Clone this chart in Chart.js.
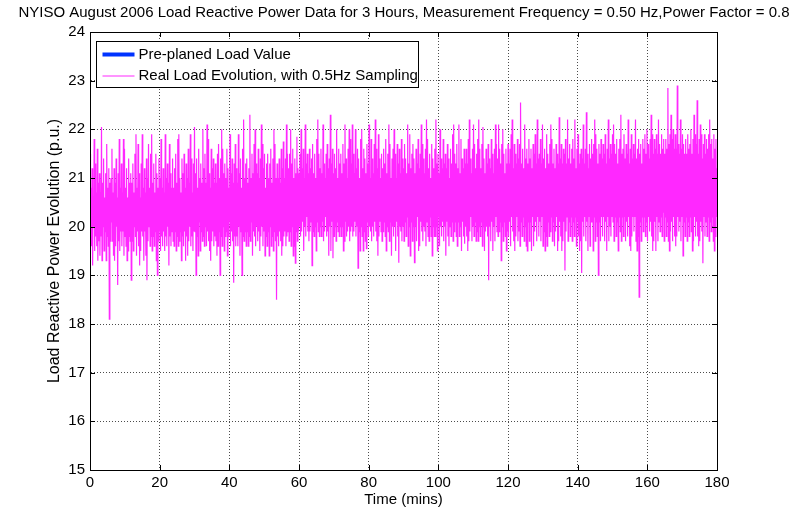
<!DOCTYPE html>
<html><head><meta charset="utf-8">
<script src="https://cdn.jsdelivr.net/npm/chart.js@4.4.0/dist/chart.umd.min.js"></script>
<style>html,body{margin:0;padding:0;background:#fff}#wrap{width:807px;height:509px}</style>
</head><body><div id="wrap"><canvas id="c" width="807" height="509"></canvas></div>
<script>
const titleText = "NYISO August 2006 Load Reactive Power Data for 3 Hours, Measurement Frequency = 0.50 Hz,Power Factor = 0.8";
const xTitle = "Time (mins)";
const yTitle = "Load Reactive Power Evolution (p.u.)";
const legendLabels = ["Pre-planed Load Value", "Real Load Evolution, with 0.5Hz Sampling"];
const xTicks = [0, 20, 40, 60, 80, 100, 120, 140, 160, 180];
const yTicks = [15, 16, 17, 18, 19, 20, 21, 22, 23, 24];
const sampleStepMin = 0.15;
const realLoad = [
21.5,19.9,20.8,19.6,21.2,19.2,20.6,20.0,21.8,19.5,21.3,19.8,20.7,19.6,21.6,19.3,20.9,19.7,21.1,19.4,
20.7,19.8,22.05,19.3,20.9,20.0,21.4,19.5,20.6,19.9,21.1,19.3,21.7,19.8,20.8,19.6,21.2,18.1,20.9,19.7,
21.0,20.1,21.6,19.7,20.7,19.4,21.2,19.3,20.9,19.6,21.4,20.0,20.6,18.8,21.1,19.7,21.8,19.5,20.8,19.9,
21.3,19.6,20.7,19.9,21.8,19.4,21.6,19.8,20.8,19.6,21.2,19.3,20.6,19.5,21.4,19.8,20.9,19.7,21.1,18.9,
20.9,19.7,21.3,19.5,20.7,20.0,21.5,19.8,21.9,19.4,20.8,19.9,21.7,19.6,21.1,19.2,20.6,19.5,21.3,19.9,
21.9,19.8,20.8,19.3,21.2,19.9,20.7,19.4,21.4,18.9,21.0,19.7,21.7,20.0,20.8,19.6,21.5,19.8,21.9,19.5,
20.9,19.8,21.3,19.6,20.7,19.9,21.5,19.3,21.1,19.0,20.8,19.7,21.4,19.9,21.0,19.5,21.8,19.8,20.8,19.6,
21.2,19.9,20.7,19.5,21.9,19.8,21.0,19.6,21.3,20.0,20.9,19.2,21.7,19.8,21.1,19.6,20.8,19.9,21.4,19.7,
20.8,19.6,21.2,19.9,21.5,19.5,20.9,19.8,21.8,19.6,21.9,19.7,21.0,19.9,20.7,19.3,21.4,19.8,21.1,19.6,
21.5,19.9,20.8,19.3,21.3,19.8,21.0,19.4,21.6,19.7,20.9,20.0,21.9,19.6,21.4,19.8,20.7,19.5,21.3,19.9,
22.05,19.9,21.1,19.0,21.4,19.8,20.8,19.4,21.6,20.1,21.0,19.5,21.3,19.9,20.9,19.7,22.0,19.8,21.2,19.6,
21.5,20.0,20.9,19.6,22.1,19.9,21.8,19.7,21.1,19.5,20.8,19.3,21.6,19.7,21.2,19.9,21.4,19.6,20.9,19.8,
21.3,19.7,20.9,19.4,21.5,19.6,21.7,19.9,21.0,19.0,21.4,19.8,22.0,19.6,21.6,20.0,21.1,19.5,21.3,19.8,
21.0,19.9,21.6,19.4,21.2,19.8,20.8,20.1,21.9,19.6,21.1,19.9,21.4,19.7,20.9,18.85,21.3,19.8,21.7,19.6,
21.2,19.8,20.9,19.6,21.9,20.0,21.1,19.4,21.4,19.9,20.8,19.0,21.6,19.8,22.2,19.7,21.0,19.9,21.3,19.6,
21.4,19.9,20.9,19.6,21.2,19.8,22.3,19.7,21.0,20.1,21.5,19.4,21.1,19.9,21.7,19.8,22.0,19.6,21.3,20.0,
21.1,19.7,21.6,19.9,21.0,19.5,21.4,19.8,22.1,20.0,21.7,19.6,21.2,19.9,21.5,19.4,20.8,19.8,21.3,19.6,
21.5,19.9,21.0,19.4,21.3,20.0,21.6,19.6,20.9,19.8,21.4,19.5,22.0,19.9,21.7,19.7,21.0,18.5,21.3,19.8,
21.0,19.6,21.4,19.9,20.9,19.7,21.6,19.4,21.2,19.6,21.75,19.8,21.0,19.9,21.4,19.6,22.1,19.8,21.5,19.9,
21.2,19.7,21.5,19.9,22.0,19.6,21.3,20.0,21.6,19.4,21.0,19.6,21.4,19.25,21.1,19.9,21.85,19.7,21.2,19.9,
21.1,20.0,21.5,19.8,22.0,19.9,21.2,20.1,21.6,19.5,21.0,20.0,22.1,19.8,21.3,20.2,21.5,19.9,21.1,19.7,
21.6,19.9,21.2,20.1,21.4,19.2,21.7,19.9,21.1,19.8,21.5,20.0,21.0,19.5,21.8,20.1,22.2,19.9,21.5,19.8,
21.2,20.0,21.6,19.8,21.1,20.1,22.1,19.7,21.3,19.9,21.0,20.2,21.5,19.8,21.7,19.9,21.2,19.4,21.4,20.0,
22.3,19.5,21.3,20.1,21.6,19.35,21.1,19.8,21.5,20.0,21.2,19.7,22.0,20.1,21.0,19.9,21.6,19.8,21.3,20.0,
21.5,19.8,21.1,20.0,21.7,19.5,21.3,19.7,22.1,20.1,21.4,19.8,21.0,19.9,21.6,20.0,22.0,19.7,21.8,19.9,
21.3,20.0,22.1,19.8,21.5,19.9,21.1,20.1,22.0,19.8,21.2,20.0,21.6,19.15,21.4,19.9,21.0,19.5,21.8,20.0,
22.0,19.8,21.2,19.5,21.6,19.9,21.4,19.7,21.1,19.55,21.7,20.1,21.3,19.8,22.1,20.0,21.0,19.9,21.8,19.7,
21.4,20.0,21.1,19.8,21.7,20.1,22.2,19.9,21.6,19.7,21.2,19.4,21.9,19.8,21.4,20.1,21.0,19.9,21.5,19.7,
21.2,19.9,21.6,20.1,21.3,19.8,21.8,19.5,21.1,20.0,21.5,19.9,22.1,19.7,21.7,20.1,21.0,19.4,21.4,20.0,
21.6,19.8,22.0,20.0,21.5,19.5,21.0,20.1,21.7,19.8,21.3,19.26,21.6,20.0,21.1,19.9,21.8,19.7,21.4,20.0,
21.2,19.7,21.7,20.1,21.4,19.8,21.1,20.2,22.1,19.6,21.3,20.0,21.9,19.4,21.2,20.1,21.5,19.7,21.7,20.0,
21.4,19.26,21.1,20.0,21.6,19.7,21.3,20.2,21.8,19.5,21.2,19.6,21.5,20.1,22.1,19.9,21.7,19.7,21.4,20.0,
21.1,19.9,21.6,19.6,22.2,20.1,21.8,19.8,21.2,19.7,21.5,20.2,21.0,19.8,21.7,19.4,21.4,20.0,21.2,19.8,
21.6,19.8,22.2,20.0,21.3,19.5,21.5,20.2,21.1,19.6,22.0,20.0,21.4,19.8,21.2,20.1,21.8,19.7,21.3,20.0,
21.5,19.4,21.2,20.1,21.7,19.8,21.4,19.6,21.0,20.0,21.6,19.8,21.3,20.1,21.9,19.7,22.1,19.9,21.5,20.1,
21.3,19.8,21.7,19.6,21.2,20.1,22.1,19.8,21.1,20.0,21.8,19.5,21.4,20.1,21.2,19.8,21.6,19.65,21.3,20.0,
21.6,19.8,21.3,19.5,21.8,19.7,22.2,19.9,21.4,20.2,21.1,19.7,21.6,20.0,22.1,19.8,21.7,20.1,21.2,19.7,
21.5,19.9,21.8,19.7,22.2,20.0,21.6,19.8,21.2,20.1,21.7,19.6,22.05,20.0,21.4,19.5,21.1,19.9,21.6,20.0,
21.3,19.8,21.7,18.9,21.4,20.0,21.2,19.7,21.8,20.1,21.5,19.5,21.1,20.0,21.6,19.7,22.1,20.2,21.7,19.9,
21.4,19.8,22.1,19.9,21.6,20.1,21.3,19.3,21.7,20.0,22.0,19.7,21.5,20.1,21.1,19.8,21.6,19.5,21.3,19.9,
21.7,19.8,21.3,20.1,21.6,19.6,21.9,20.2,22.2,19.9,21.2,19.7,21.7,19.5,21.5,19.8,21.3,20.2,21.8,19.7,
21.4,19.9,21.7,19.6,22.55,20.1,21.3,19.8,21.6,20.2,21.2,19.7,22.1,20.0,21.4,19.6,21.6,19.5,21.3,20.1,
21.8,19.7,21.4,20.1,21.6,19.5,21.2,20.2,21.7,19.6,21.5,19.9,21.9,20.1,21.3,19.7,22.2,20.2,21.4,19.8,
21.5,20.1,21.8,19.7,21.3,20.2,22.1,19.6,21.4,19.9,21.6,19.5,21.2,19.8,21.9,19.6,21.5,20.1,21.3,19.8,
21.7,19.9,22.1,20.2,21.8,19.7,21.3,20.1,21.6,19.6,21.2,19.9,21.7,20.2,21.5,19.5,21.3,19.7,22.25,20.1,
21.4,19.8,21.7,19.5,21.3,19.7,21.6,20.1,21.5,19.1,21.8,19.9,21.3,20.2,22.2,19.7,21.4,20.1,21.7,19.8,
21.3,20.2,21.6,19.7,21.8,20.1,21.4,19.8,22.2,20.2,21.2,19.6,21.6,20.1,21.9,19.8,21.3,19.5,21.5,19.7,
21.6,19.05,21.4,20.1,22.1,19.8,21.3,20.2,21.6,19.7,22.35,20.1,21.5,19.5,21.2,20.2,21.7,19.6,21.4,20.1,
21.8,20.1,21.5,19.5,21.7,20.2,22.2,19.7,21.9,20.1,21.6,19.8,21.3,19.0,21.7,20.1,21.5,19.7,21.8,20.2,
21.4,19.8,21.7,20.2,21.5,19.7,21.9,20.1,21.3,19.5,21.6,20.2,22.2,19.7,21.4,20.0,21.7,19.8,21.5,20.2,
21.9,20.1,22.1,19.7,21.7,20.2,21.5,19.8,21.8,20.1,21.3,19.5,21.6,20.2,21.8,19.9,22.3,19.7,21.5,20.2,
21.6,19.8,21.9,20.2,21.4,19.7,21.7,20.1,21.5,19.8,22.2,20.2,21.3,19.6,21.6,19.5,21.9,19.8,21.4,20.2,
21.7,19.9,21.5,20.2,22.2,19.7,21.4,19.5,21.6,19.8,21.8,18.55,21.5,20.1,21.7,19.7,21.3,20.2,21.8,19.9,
21.6,20.2,21.9,19.8,21.5,20.1,22.0,19.7,21.7,20.2,21.4,19.9,21.8,20.1,22.3,19.8,21.9,19.5,21.5,19.7,
21.8,20.1,21.6,19.5,21.9,20.2,21.5,19.7,22.2,20.1,21.7,19.9,21.5,20.2,21.9,19.8,21.6,20.3,21.8,19.7,
21.5,20.2,21.8,19.8,21.6,20.1,22.85,19.7,21.7,19.5,21.9,19.9,22.3,20.1,21.8,19.7,22.0,20.2,21.6,19.8,
21.9,19.6,21.6,19.8,22.9,20.2,21.7,19.9,21.5,20.1,22.2,19.7,21.6,20.2,21.9,19.4,21.7,20.1,21.5,19.8,
21.8,20.2,21.5,19.7,21.9,20.1,21.6,19.8,21.7,20.2,22.0,19.9,21.5,19.5,21.8,19.7,22.3,20.2,21.9,19.8,
21.7,20.1,22.6,19.8,21.5,19.6,21.8,19.7,22.1,20.1,21.9,19.9,21.4,19.25,21.7,20.2,21.9,19.8,21.5,20.1,
21.8,19.8,21.6,20.2,21.9,19.7,22.2,20.1,21.7,19.9,21.8,20.2,21.4,19.7,21.9,19.5,21.6,19.8,21.8,20.2,
21.2
];
const plannedTimes = [0, 10, 20, 30, 40, 50, 60, 70, 80, 90, 100, 110, 120, 130, 140, 150, 160, 170, 180];
const plannedLoad = [20.35, 20.35, 20.4, 20.45, 20.45, 20.5, 20.55, 20.6, 20.6, 20.6, 20.65, 20.65, 20.7, 20.7, 20.75, 20.75, 20.8, 20.8, 20.8];

const FONT = "'Liberation Sans', Arial, Helvetica, sans-serif";
const magenta = 'rgb(255,40,255)';
const blue = 'rgb(0,51,255)';

const realPts = realLoad.map((v, i) => ({x: i * sampleStepMin, y: v}));
const plannedPts = plannedTimes.map((t, i) => ({x: t, y: plannedLoad[i]}));

const framePlugin = {
  id: 'frame',
  afterDraw(chart) {
    const ctx = chart.ctx;
    const a = chart.chartArea;
    const xs = chart.scales.x, ys = chart.scales.y;
    ctx.save();
    ctx.strokeStyle = '#000';
    ctx.lineWidth = 1;
    ctx.setLineDash([]);
    ctx.beginPath();
    ctx.rect(Math.round(a.left) + 0.5, Math.round(a.top) + 0.5, Math.round(a.right - a.left), Math.round(a.bottom - a.top));
    ctx.stroke();
    const tl = 5;
    ctx.beginPath();
    xTicks.forEach(v => {
      const px = Math.round(xs.getPixelForValue(v)) + 0.5;
      ctx.moveTo(px, a.bottom); ctx.lineTo(px, a.bottom - tl);
      ctx.moveTo(px, a.top); ctx.lineTo(px, a.top + tl);
    });
    yTicks.forEach(v => {
      const py = Math.round(ys.getPixelForValue(v)) + 0.5;
      ctx.moveTo(a.left, py); ctx.lineTo(a.left + tl, py);
      ctx.moveTo(a.right, py); ctx.lineTo(a.right - tl, py);
    });
    ctx.stroke();
    // legend
    const lx = a.left + 6.5, ly = a.top + 9.5, lw = 322, lh = 46;
    ctx.fillStyle = '#fff';
    ctx.fillRect(lx, ly, lw, lh);
    ctx.strokeStyle = '#000';
    ctx.strokeRect(lx, ly, lw, lh);
    const rows = [{c: blue, w: 4, label: legendLabels[0]}, {c: magenta, w: 1, label: legendLabels[1]}];
    rows.forEach((r, k) => {
      const y = ly + 13 + k * 21.5;
      ctx.strokeStyle = r.c; ctx.lineWidth = r.w;
      ctx.beginPath(); ctx.moveTo(lx + 6, y); ctx.lineTo(lx + 38, y); ctx.stroke();
      ctx.fillStyle = '#000';
      ctx.font = '15px ' + FONT;
      ctx.textBaseline = 'middle';
      ctx.textAlign = 'left';
      ctx.fillText(r.label, lx + 42, y);
    });
    // title (fitted to the reference width)
    ctx.font = '15px ' + FONT;
    ctx.textAlign = 'center';
    ctx.textBaseline = 'middle';
    ctx.fillStyle = '#000';
    const w = ctx.measureText(titleText).width;
    const sx = Math.min(1, 772 / w);
    ctx.translate(404, 13);
    ctx.scale(sx, 1);
    ctx.fillText(titleText, 0, 0);
    ctx.restore();
  }
};

new Chart(document.getElementById('c'), {
  type: 'line',
  data: {
    datasets: [
      {label: legendLabels[1], data: realPts, borderColor: magenta, borderWidth: 1.2, pointRadius: 0, tension: 0, order: 1},
      {label: legendLabels[0], data: plannedPts, borderColor: blue, borderWidth: 2, pointRadius: 0, tension: 0, order: 2}
    ]
  },
  options: {
    responsive: false,
    animation: false,
    devicePixelRatio: 1,
    layout: {padding: {top: 32, right: 90, left: 0, bottom: 0}},
    plugins: {legend: {display: false}, tooltip: {enabled: false}, title: {display: false}},
    scales: {
      x: {
        type: 'linear', min: 0, max: 180,
        afterBuildTicks: s => { s.ticks = xTicks.map(v => ({value: v})); },
        afterFit: s => { s.height = 39; },
        ticks: {font: {size: 15, family: FONT}, color: '#000', padding: 4, maxRotation: 0, autoSkip: false},
        grid: {color: 'rgba(0,0,0,0.7)', drawTicks: false, lineWidth: 1},
        border: {display: true, color: '#000', width: 1, dash: [1, 2]},
        title: {display: true, text: xTitle, font: {size: 15, family: FONT}, color: '#000', padding: {top: 0, bottom: 0}}
      },
      y: {
        type: 'linear', min: 15, max: 24,
        afterBuildTicks: s => { s.ticks = yTicks.map(v => ({value: v})); },
        afterFit: s => { s.width = 90; },
        ticks: {font: {size: 15, family: FONT}, color: '#000', padding: 5},
        grid: {color: 'rgba(0,0,0,0.7)', drawTicks: false, lineWidth: 1},
        border: {display: true, color: '#000', width: 1, dash: [1, 2]},
        title: {display: true, text: yTitle, font: {size: 16, family: FONT}, color: '#000', padding: {top: 45, bottom: 0}}
      }
    }
  },
  plugins: [framePlugin]
});
</script>
</body></html>
